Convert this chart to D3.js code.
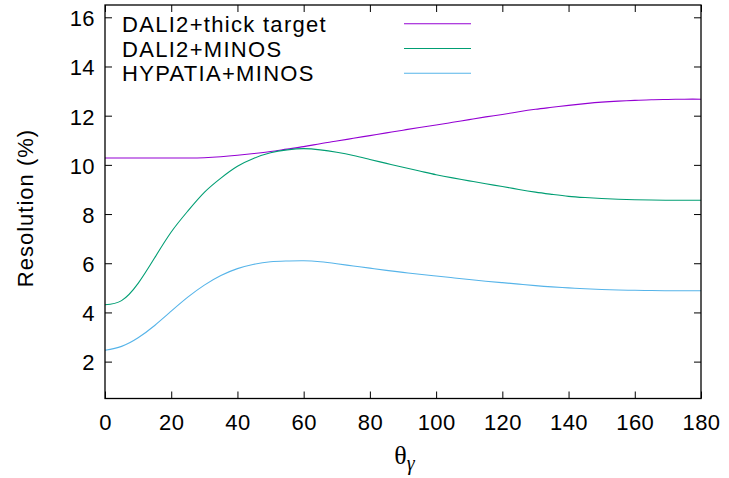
<!DOCTYPE html>
<html>
<head>
<meta charset="utf-8">
<script src="https://cdn.jsdelivr.net/npm/d3@7"></script>
<style>
body { margin: 0; background: #fff; }
svg { display: block; }
text { font-family: "Liberation Sans", Arial, sans-serif; fill: #000; }
</style>
</head>
<body>
<svg id="chart" width="729" height="478"></svg>
<script>
const theta = [0,5,10,15,20,25,30,35,40,45,50,55,60,65,70,75,80,85,90,95,100,105,110,115,120,125,130,135,140,145,150,155,160,165,170,175,180];
const dali2Thick = [10.28,10.28,10.28,10.28,10.28,10.28,10.29,10.33,10.39,10.46,10.54,10.64,10.74,10.86,10.97,11.08,11.19,11.30,11.41,11.52,11.62,11.73,11.84,11.95,12.05,12.16,12.26,12.34,12.42,12.49,12.55,12.59,12.62,12.65,12.66,12.67,12.67];
const dali2Minos = [4.31,4.48,5.18,6.22,7.27,8.12,8.88,9.46,9.94,10.27,10.49,10.61,10.66,10.61,10.51,10.38,10.22,10.06,9.90,9.75,9.60,9.47,9.35,9.23,9.12,9.00,8.89,8.80,8.72,8.67,8.63,8.60,8.58,8.57,8.56,8.56,8.56];
const hypatiaMinos = [2.46,2.62,2.97,3.47,4.05,4.62,5.11,5.50,5.78,5.96,6.06,6.09,6.10,6.06,5.98,5.89,5.80,5.71,5.63,5.55,5.48,5.41,5.34,5.27,5.21,5.15,5.09,5.04,5.00,4.96,4.93,4.91,4.90,4.89,4.88,4.88,4.88];
const seriesNames = ["DALI2+thick target","DALI2+MINOS","HYPATIA+MINOS"];
const seriesColors = ["#9400d3","#009e73","#56b4e9"];
const xTicks = [0,20,40,60,80,100,120,140,160,180];
const yTicks = [2,4,6,8,10,12,14,16];

const svg = d3.select("#chart");
const L = 105, R = 701, T = 5, B = 398.5;
const x = d3.scaleLinear().domain([0,180]).range([L,R]);
const y = d3.scaleLinear().domain([0.5,16.5]).range([B,T]);

const series = [dali2Thick, dali2Minos, hypatiaMinos];

// curves
const line = d3.line().x((d,i)=>x(theta[i])).y(d=>y(d)).curve(d3.curveNatural);
series.forEach((s,k)=>{
  svg.append("path").datum(s).attr("d", line)
    .attr("fill","none").attr("stroke", seriesColors[k]).attr("stroke-width",1.1);
});

// axes with inward ticks
const tickLen = 7;
const gB = svg.append("g").attr("transform",`translate(0,${B})`)
  .call(d3.axisBottom(x).tickValues(xTicks).tickSizeInner(-tickLen).tickSizeOuter(0).tickPadding(16));
const gT = svg.append("g").attr("transform",`translate(0,${T})`)
  .call(d3.axisTop(x).tickValues(xTicks).tickSizeInner(-tickLen).tickSizeOuter(0).tickFormat(""));
const gL = svg.append("g").attr("transform",`translate(${L},0)`)
  .call(d3.axisLeft(y).tickValues(yTicks).tickSizeInner(-tickLen).tickSizeOuter(0).tickPadding(10));
const gR = svg.append("g").attr("transform",`translate(${R},0)`)
  .call(d3.axisRight(y).tickValues(yTicks).tickSizeInner(-tickLen).tickSizeOuter(0).tickFormat(""));
[gB,gT,gL,gR].forEach(g=>{
  g.select(".domain").remove();
  g.selectAll(".tick line").attr("stroke","#000").attr("stroke-width",1);
  g.selectAll("text").style("font-family","'Liberation Sans', Arial, sans-serif").attr("font-size",22).attr("fill","#000");
});
gB.selectAll(".tick text").attr("dy","0.71em").attr("letter-spacing",0.4);
gL.selectAll(".tick text").attr("dy","0.38em").attr("letter-spacing",0.4);

// border
svg.append("rect").attr("x",L).attr("y",T).attr("width",R-L).attr("height",B-T)
  .attr("fill","none").attr("stroke","#000").attr("stroke-width",1.3);

// legend
seriesNames.forEach((n,k)=>{
  const by = 31.7 + k*24.8;
  svg.append("text").attr("x",122).attr("y",by).attr("font-size",22)
    .attr("letter-spacing",1.3).text(n);
  svg.append("line").attr("x1",404).attr("x2",471).attr("y1",by-8).attr("y2",by-8)
    .attr("stroke",seriesColors[k]).attr("stroke-width",1.1);
});

// axis labels
svg.append("text").attr("transform","translate(33,208) rotate(-90)")
  .attr("text-anchor","middle").attr("font-size",22).attr("letter-spacing",1).text("Resolution (%)");
const xl = svg.append("text").attr("x",404.5).attr("y",464).attr("text-anchor","middle")
  .style("font-family","'Liberation Serif','DejaVu Serif',serif");
xl.append("tspan").attr("font-size",26).text("θ");
xl.append("tspan").attr("font-size",20).attr("font-style","italic").attr("dy",6).text("γ");
</script>
</body>
</html>
